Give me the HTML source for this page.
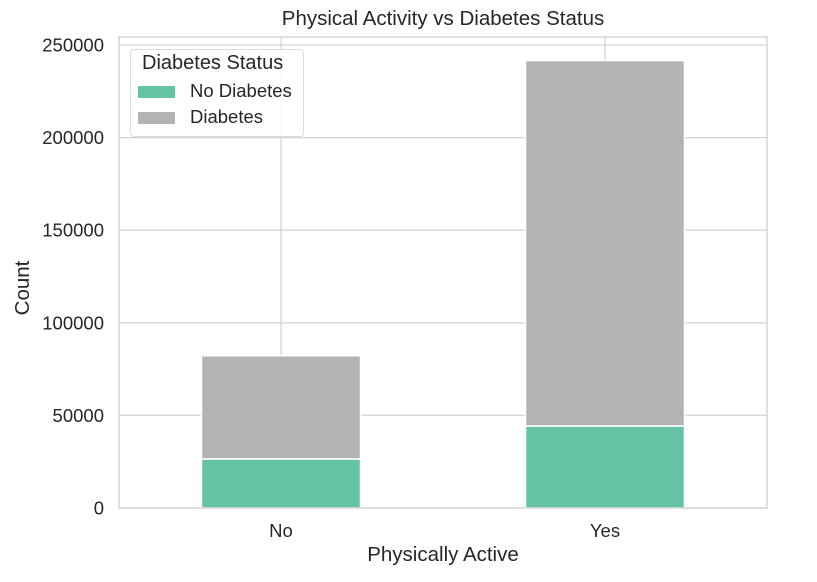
<!DOCTYPE html>
<html><head><meta charset="utf-8"><style>
body{margin:0;background:#fff;}
svg{font-family:"Liberation Sans",Arial,sans-serif;display:block}
</style></head><body>
<svg id="chart" width="817" height="582"></svg>
<script>
const categories=["No","Yes"];
const noDiabetes=[26500,44300];
const diabetes=[55700,197300];
const yTicks=[0,50000,100000,150000,200000,250000];
const seriesNames=["No Diabetes","Diabetes"];
const colors=["#66c2a5","#b3b3b3"];
const L=119,R=767,T=37,B=508;
const NS="http://www.w3.org/2000/svg";
const svg=document.getElementById('chart');
function y(v){return B-v*(92.6/50000);}
function x(i){return L+(i+0.5)*(R-L)/categories.length;}
const bw=159;
function mk(t,a,p){const e=document.createElementNS(NS,t);for(const k in a)e.setAttribute(k,a[k]);(p||svg).appendChild(e);return e;}
yTicks.forEach(v=>{
 const g=mk('line',{x1:L,x2:R,y1:y(v),y2:y(v),stroke:'#d5d5d5','stroke-width':1.3});
 
 
 const t=mk('text',{x:L-15,y:y(v)+6.5,'text-anchor':'end','font-size':18.5,fill:'#262626'});t.textContent=v;
 
 
});
categories.forEach((c,i)=>{
 const g=mk('line',{x1:x(i),x2:x(i),y1:T,y2:B,stroke:'#d5d5d5','stroke-width':1.3});
 
 
 const t=mk('text',{x:x(i),y:B+29,'text-anchor':'middle','font-size':18.5,fill:'#262626'});t.textContent=c;
 
 
});
categories.forEach((c,i)=>{
 const a=mk('rect',{x:x(i)-bw/2,y:y(noDiabetes[i]),width:bw,height:y(0)-y(noDiabetes[i]),fill:colors[0],stroke:'#fff','stroke-width':1.5});
 
 
 const tot=noDiabetes[i]+diabetes[i];
 const b=mk('rect',{x:x(i)-bw/2,y:y(tot),width:bw,height:y(noDiabetes[i])-y(tot),fill:colors[1],stroke:'#fff','stroke-width':1.5});
 
 
});
const f=mk('rect',{x:L,y:T,width:R-L,height:B-T,fill:'none',stroke:'#d5d5d5','stroke-width':1.5});


</script>
<div style="position:absolute;left:0;top:0;width:817px;height:582px;pointer-events:none">
<div style="position:absolute;left:119px;width:648px;top:7px;text-align:center;font:20.5px 'Liberation Sans',sans-serif;color:#262626">Physical Activity vs Diabetes Status</div>
<div style="position:absolute;left:119px;width:648px;top:543px;text-align:center;font:20.5px 'Liberation Sans',sans-serif;color:#262626">Physically Active</div>
<div style="position:absolute;left:-7px;top:276px;transform:rotate(-90deg);width:60px;text-align:center;font:20.5px 'Liberation Sans',sans-serif;color:#262626">Count</div>
<div style="position:absolute;left:130px;top:49px;width:172px;height:86px;border:1px solid #dcdcdc;border-radius:4px;background:rgba(255,255,255,0.85);font:18.5px 'Liberation Sans',sans-serif;color:#262626">
 <div style="position:absolute;left:11px;top:2px;font-size:20px">Diabetes Status</div>
 <div style="position:absolute;left:7px;top:30px;white-space:nowrap"><span style="display:inline-block;width:37px;height:12px;background:#66c2a5;vertical-align:middle;margin-right:15px"></span>No Diabetes</div>
 <div style="position:absolute;left:7px;top:56px;white-space:nowrap"><span style="display:inline-block;width:37px;height:12px;background:#b3b3b3;vertical-align:middle;margin-right:15px"></span>Diabetes</div>
</div>
</div>
</body></html>
